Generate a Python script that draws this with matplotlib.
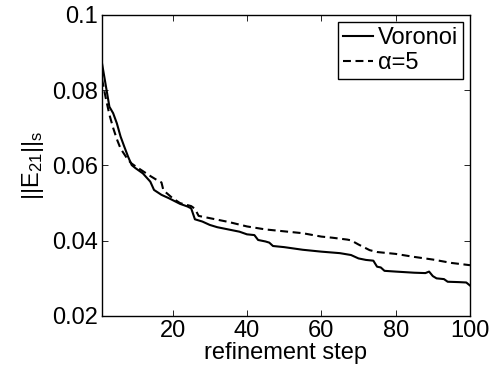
import numpy as np
import matplotlib
matplotlib.use('Agg')
from matplotlib import pyplot as plt

plt.rcParams['font.family'] = ['Liberation Sans', 'DejaVu Sans']
plt.rcParams['mathtext.fontset'] = 'custom'
plt.rcParams['mathtext.rm'] = 'Liberation Sans'
plt.rcParams['mathtext.it'] = 'Liberation Sans:italic'
plt.rcParams['font.size'] = 17

# values
voronoi_step = [1, 3, 4, 5, 6, 7, 8, 9, 10, 12, 14, 15, 17, 19, 20, 22, 24, 25,
                26, 28, 30, 32, 35, 38, 40, 42, 43, 45, 46, 47, 50, 55, 60, 65,
                68, 70, 72, 74, 75, 76, 77, 80, 85, 88, 89, 90, 91, 93, 94, 97,
                99, 100]
voronoi_err = [0.0872, 0.0756, 0.0739, 0.0712, 0.0677, 0.0650, 0.0624, 0.0601,
               0.0593, 0.0579, 0.0557, 0.0535, 0.0522, 0.0513, 0.0508, 0.0498,
               0.0491, 0.0486, 0.0457, 0.0451, 0.0442, 0.0436, 0.0430, 0.0424,
               0.0417, 0.0415, 0.0402, 0.0398, 0.0395, 0.0386, 0.0383, 0.0376,
               0.0371, 0.0367, 0.0362, 0.0353, 0.0349, 0.0347, 0.0331, 0.0329,
               0.0320, 0.0318, 0.0315, 0.0314, 0.0318, 0.0306, 0.0300, 0.0298,
               0.0291, 0.0290, 0.0289, 0.0281]

alpha_step = [1, 2, 3, 4, 5, 6, 7, 8, 9, 10, 12, 14, 16, 17, 17.5, 18, 20, 22,
              25, 26, 27, 30, 35, 40, 45, 50, 55, 60, 63, 67, 68, 70, 73, 75,
              80, 85, 90, 95, 100]
alpha_err = [0.0830, 0.0780, 0.0735, 0.0700, 0.0670, 0.0645, 0.0630, 0.0615,
             0.0605, 0.0598, 0.0585, 0.0572, 0.0560, 0.0555, 0.0535, 0.0530,
             0.0513, 0.0500, 0.0492, 0.0485, 0.0466, 0.0460, 0.0450, 0.0438,
             0.0430, 0.0425, 0.0420, 0.0411, 0.0408, 0.0403, 0.0401, 0.0390,
             0.0375, 0.0370, 0.0365, 0.0357, 0.0350, 0.0341, 0.0335]

x_ticks = [20, 40, 60, 80, 100]
y_ticks = [0.02, 0.04, 0.06, 0.08, 0.1]
y_ticklabels = ['0.02', '0.04', '0.06', '0.08', '0.1']

fig = plt.figure(figsize=(4.91, 3.70), dpi=100)
ax = fig.add_axes([0.2077, 0.146, 0.7495, 0.8135])

ax.plot(voronoi_step, voronoi_err, 'k-', lw=1.5, label='Voronoi')
ax.plot(alpha_step, alpha_err, 'k--', lw=1.5, dashes=(3.8, 2.2),
        label='\u03b1=5')

ax.set_xlim(1, 100)
ax.set_ylim(0.02, 0.1)
ax.set_xticks(x_ticks)
ax.set_yticks(y_ticks)
ax.set_yticklabels(y_ticklabels)
ax.tick_params(direction='in', top=True, right=True, length=4, width=0.6,
               pad=3)
for sp in ax.spines.values():
    sp.set_linewidth(1.0)

ax.set_xlabel('refinement step', labelpad=0)
ax.set_ylabel(r'$||\mathrm{E}_{21}||_\mathrm{s}$', labelpad=4)

leg = ax.legend(loc='upper right', fancybox=False, edgecolor='k',
                framealpha=1, borderaxespad=0.3, handlelength=1.3,
                handletextpad=0.2, borderpad=0.2, labelspacing=0.15)
leg.get_frame().set_linewidth(1.0)

fig.savefig('out.png', dpi=100)
